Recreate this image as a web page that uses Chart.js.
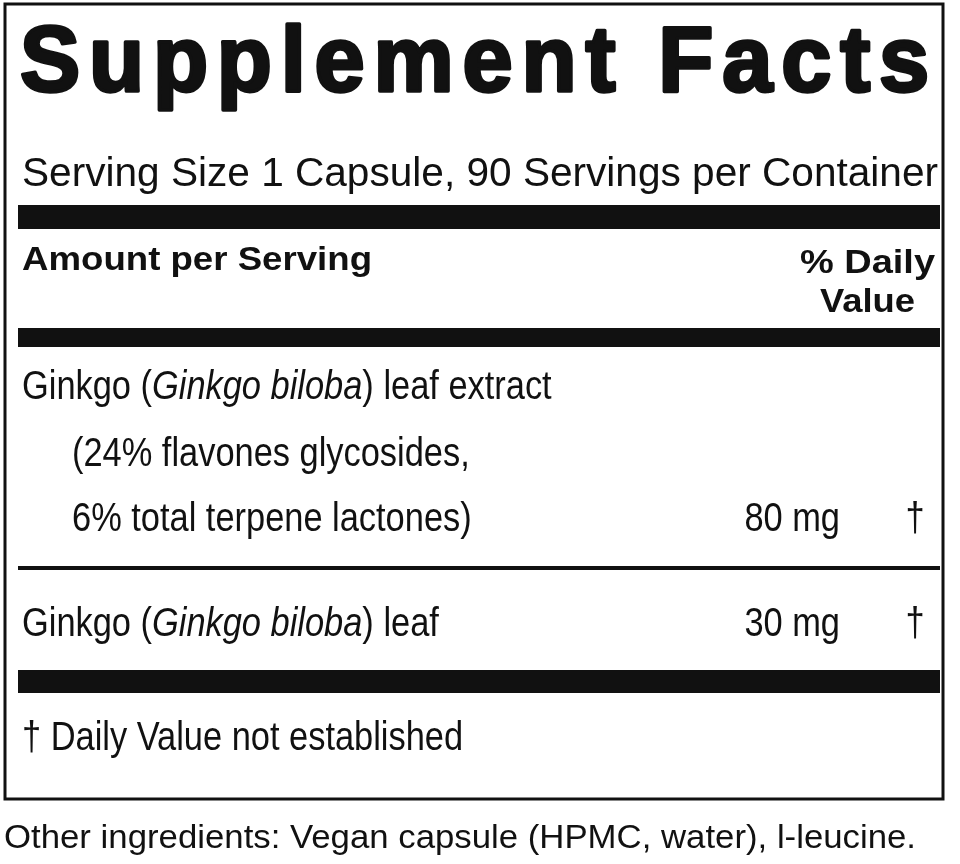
<!DOCTYPE html>
<html><head><meta charset="utf-8">
<script src="https://cdn.jsdelivr.net/npm/chart.js@4/dist/chart.umd.min.js"></script>
<style>html,body{margin:0;padding:0;background:#fff}#c{display:block}</style>
</head><body>
<div style="width:960px;height:864px"><canvas id="c"></canvas></div>
<script>
const title = "Supplement Facts";
const serving = "Serving Size 1 Capsule, 90 Servings per Container";
const ingredientLines = [
  [["Ginkgo (",""],["Ginkgo biloba","i"],[") leaf extract",""]],
  [["(24% flavones glycosides,",""]],
  [["6% total terpene lactones)",""]],
  [["Ginkgo (",""],["Ginkgo biloba","i"],[") leaf",""]]
];
const amounts = ["80 mg","30 mg"];
const dailyValues = ["†","†"];
const footnote = "† Daily Value not established";
const other = "Other ingredients: Vegan capsule (HPMC, water), l-leucine.";

const F = '"Liberation Sans",Arial,sans-serif';
const SX = 0.86;
function txt(c,t,x,y,font,sx,align,width){
  c.save(); c.font=font;
  const w=c.measureText(t).width;
  if(width) sx=width/w;
  const W=w*sx;
  let x0 = align==='right'? x-W : align==='center'? x-W/2 : x;
  c.translate(x0,y); c.scale(sx,1); c.textAlign='left';
  c.fillText(t,0,0); c.restore();
  return W;
}
const labelPlugin = {
  id:'label',
  afterDraw(chart){
    const c = chart.ctx;
    c.save();
    c.fillStyle='#fff'; c.fillRect(0,0,960,864);
    c.fillStyle='#111'; c.strokeStyle='#111';
    c.lineWidth=3; c.strokeRect(5,4,938,795);
    // title
    c.save();
    c.font='900 92px '+F; c.letterSpacing='9px';
    c.lineWidth=3.5; c.lineJoin='round';
    const tw=c.measureText(title).width;
    const s=918/tw;
    c.translate(20,91); c.scale(s,1);
    c.fillText(title,0,0); c.strokeText(title,0,0);
    c.restore();
    txt(c,serving,22,186,'40px '+F,1,'left',916);
    c.fillRect(18,205,922,24);
    c.fillRect(18,328,922,19);
    c.fillRect(18,566,922,4);
    c.fillRect(18,670,922,23);
    txt(c,"Amount per Serving",22,270,'bold 34px '+F,1,'left',350);
    txt(c,"% Daily",935,273,'bold 34px '+F,1,'right',135);
    txt(c,"Value",915,312,'bold 34px '+F,1,'right',95);
    const ys=[399,466,531,636], xs=[22,72,72,22];
    ingredientLines.forEach((segs,i)=>{
      let x=xs[i];
      segs.forEach(([t,st])=>{
        x+=txt(c,t,x,ys[i],(st?'italic ':'')+'40px '+F,SX,'left');
      });
    });
    txt(c,amounts[0],840,531,'40px '+F,SX,'right');
    txt(c,amounts[1],840,636,'40px '+F,SX,'right');
    txt(c,dailyValues[0],915,531,'40px '+F,SX,'center');
    txt(c,dailyValues[1],915,636,'40px '+F,SX,'center');
    txt(c,footnote,22,750,'40px '+F,SX,'left');
    txt(c,other,4,848,'33px '+F,1,'left',912);
    c.restore();
  }
};
new Chart(document.getElementById('c'),{
  type:'bar',
  data:{labels:ingredientLines.map((_,i)=>i),datasets:[{data:[]}]},
  options:{responsive:true,maintainAspectRatio:false,animation:false,
    plugins:{legend:{display:false},tooltip:{enabled:false}},
    scales:{x:{display:false},y:{display:false}}},
  plugins:[labelPlugin]
});
</script>
</body></html>
